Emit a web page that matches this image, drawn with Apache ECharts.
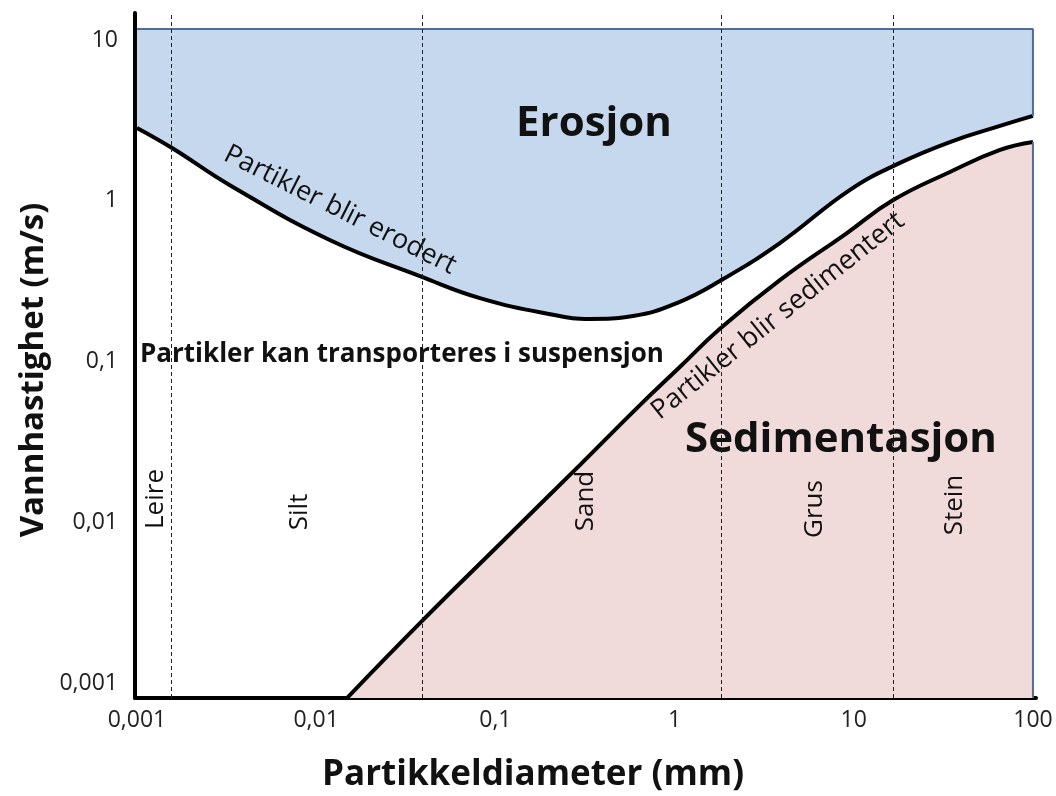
<!DOCTYPE html>
<html>
<head>
<meta charset="utf-8">
<script src="https://cdn.jsdelivr.net/npm/echarts@6/dist/echarts.min.js"></script>
<style>
  html, body { margin: 0; padding: 0; background: #fff; }
  #chart { width: 1056px; height: 796px; }
</style>
</head>
<body>
<div id="chart"></div>
<script>
// tick labels (values in mm and m/s)
const xTicks = [0.001, 0.01, 0.1, 1, 10, 100];
const xTickLabels = ['0,001', '0,01', '0,1', '1', '10', '100'];
const yTicks = [0.001, 0.01, 0.1, 1, 10];
const yTickLabels = ['0,001', '0,01', '0,1', '1', '10'];

// erosion curve: particle diameter (mm) -> water velocity (m/s)
const erosionDiameter = [0.001, 0.00157, 0.0033, 0.0119, 0.0389, 0.082, 0.202, 0.337, 0.586, 1.03, 1.79, 3.87, 9.53, 18.1, 34.4, 65.5, 100];
const erosionVelocity = [2.84, 2.13, 1.25, 0.57, 0.336, 0.248, 0.197, 0.184, 0.192, 0.231, 0.317, 0.546, 1.17, 1.72, 2.32, 2.92, 3.37];

// sedimentation curve
const depositionDiameter = [0.0149, 0.0389, 0.106, 0.296, 0.641, 1.07, 1.79, 3.87, 9.16, 16.6, 34.4, 65.5, 100];
const depositionVelocity = [0.00081, 0.00243, 0.00733, 0.0227, 0.0536, 0.0925, 0.16, 0.321, 0.63, 1.01, 1.51, 2.07, 2.32];

// grain size class boundaries (mm) and class names
const classBoundaries = [0.00155, 0.039, 1.82, 16.7];
const classNames = ['Leire', 'Silt', 'Sand', 'Grus', 'Stein'];

// upper edge of the erosion field (m/s)
const erosionTop = 11.7;

const lg = Math.log10;
const FONT = '"Open Sans", "Noto Sans", sans-serif';

function pairs(xs, ys) {
  return xs.map((x, i) => [lg(x), lg(ys[i])]);
}

function tickLabel(ticks, labels) {
  return v => {
    const i = ticks.findIndex(t => Math.abs(lg(t) - v) < 1e-6);
    return i < 0 ? '' : labels[i];
  };
}

const chart = echarts.init(document.getElementById('chart'));

const lastE = erosionDiameter.length - 1;
const lastD = depositionDiameter.length - 1;

function txt(text, x, y, size, weight, rot) {
  return {
    type: 'text', x: x, y: y, z: 4, rotation: rot || 0,
    style: {
      text: text, fill: '#111', align: 'center', verticalAlign: 'middle',
      font: (weight || 'normal') + ' ' + size + 'px ' + FONT
    }
  };
}

chart.setOption({
  animation: false,
  grid: { left: 135, right: 20, top: 13, bottom: 98 },
  xAxis: {
    type: 'value', min: -3.011, max: 2.017,
    splitLine: { show: false },
    axisTick: { show: false },
    axisLine: { onZero: false, lineStyle: { color: '#000', width: 4 } },
    axisLabel: {
      customValues: xTicks.map(lg),
      formatter: tickLabel(xTicks, xTickLabels),
      color: '#222', fontSize: 23, fontFamily: FONT, margin: 11
    }
  },
  yAxis: {
    type: 'value', min: -3.093, max: 1.168,
    splitLine: { show: false },
    axisTick: { show: false },
    axisLine: { onZero: false, lineStyle: { color: '#000', width: 4 } },
    axisLabel: {
      customValues: yTicks.map(lg),
      formatter: tickLabel(yTicks, yTickLabels),
      color: '#222', fontSize: 23, fontFamily: FONT, margin: 17
    }
  },
  series: [
    {
      // erosion field + curve
      type: 'line', z: 2, smooth: 0.45, symbol: 'none',
      data: pairs(erosionDiameter, erosionVelocity),
      lineStyle: { color: '#000', width: 4 },
      areaStyle: { color: '#c6d8ee', opacity: 1, origin: lg(erosionTop) }
    },
    {
      // border of erosion field
      type: 'line', z: 2, symbol: 'none',
      data: [[lg(erosionDiameter[0]), lg(erosionTop)], [lg(erosionDiameter[lastE]), lg(erosionTop)], [lg(erosionDiameter[lastE]), lg(erosionVelocity[lastE])]],
      lineStyle: { color: '#4e6d97', width: 2 }
    },
    {
      // sedimentation field + curve
      type: 'line', z: 2, smooth: 0.45, symbol: 'none',
      data: pairs(depositionDiameter, depositionVelocity),
      lineStyle: { color: '#000', width: 4 },
      areaStyle: { color: '#f1dada', opacity: 1, origin: 'start' }
    },
    {
      type: 'line', z: 2, symbol: 'none',
      data: [[lg(depositionDiameter[lastD]), lg(depositionVelocity[lastD])], [lg(depositionDiameter[lastD]), lg(depositionVelocity[0])]],
      lineStyle: { color: '#4e6d97', width: 2 },
      markLine: {
        z: 10, silent: true, symbol: 'none',
        label: { show: false },
        lineStyle: { color: '#222', width: 1, type: [4, 3] },
        data: classBoundaries.map(b => ({ xAxis: lg(b) }))
      }
    }
  ],
  graphic: [
    txt('Erosjon', 594, 124, 42, 'bold'),
    txt('Sedimentasjon', 841, 440, 42, 'bold'),
    { type: 'text', x: 140, y: 355, z: 4,
      style: { text: 'Partikler kan transporteres i suspensjon', fill: '#111', align: 'left', verticalAlign: 'middle', font: 'bold 26px ' + FONT } },
    txt('Partikler blir erodert', 340, 210, 27, 'normal', -0.466),
    txt('Partikler blir sedimentert', 778, 316, 27, 'normal', 0.674),
    txt(classNames[0], 156, 499, 26, 'normal', Math.PI / 2),
    txt(classNames[1], 300, 512, 26, 'normal', Math.PI / 2),
    txt(classNames[2], 586, 501, 26, 'normal', Math.PI / 2),
    txt(classNames[3], 815, 509, 26, 'normal', Math.PI / 2),
    txt(classNames[4], 955, 505, 26, 'normal', Math.PI / 2),
    txt('Vannhastighet (m/s)', 34, 370, 33, 'bold', Math.PI / 2),
    txt('Partikkeldiameter (mm)', 533, 775, 35, 'bold')
  ]
});
</script>
</body>
</html>
